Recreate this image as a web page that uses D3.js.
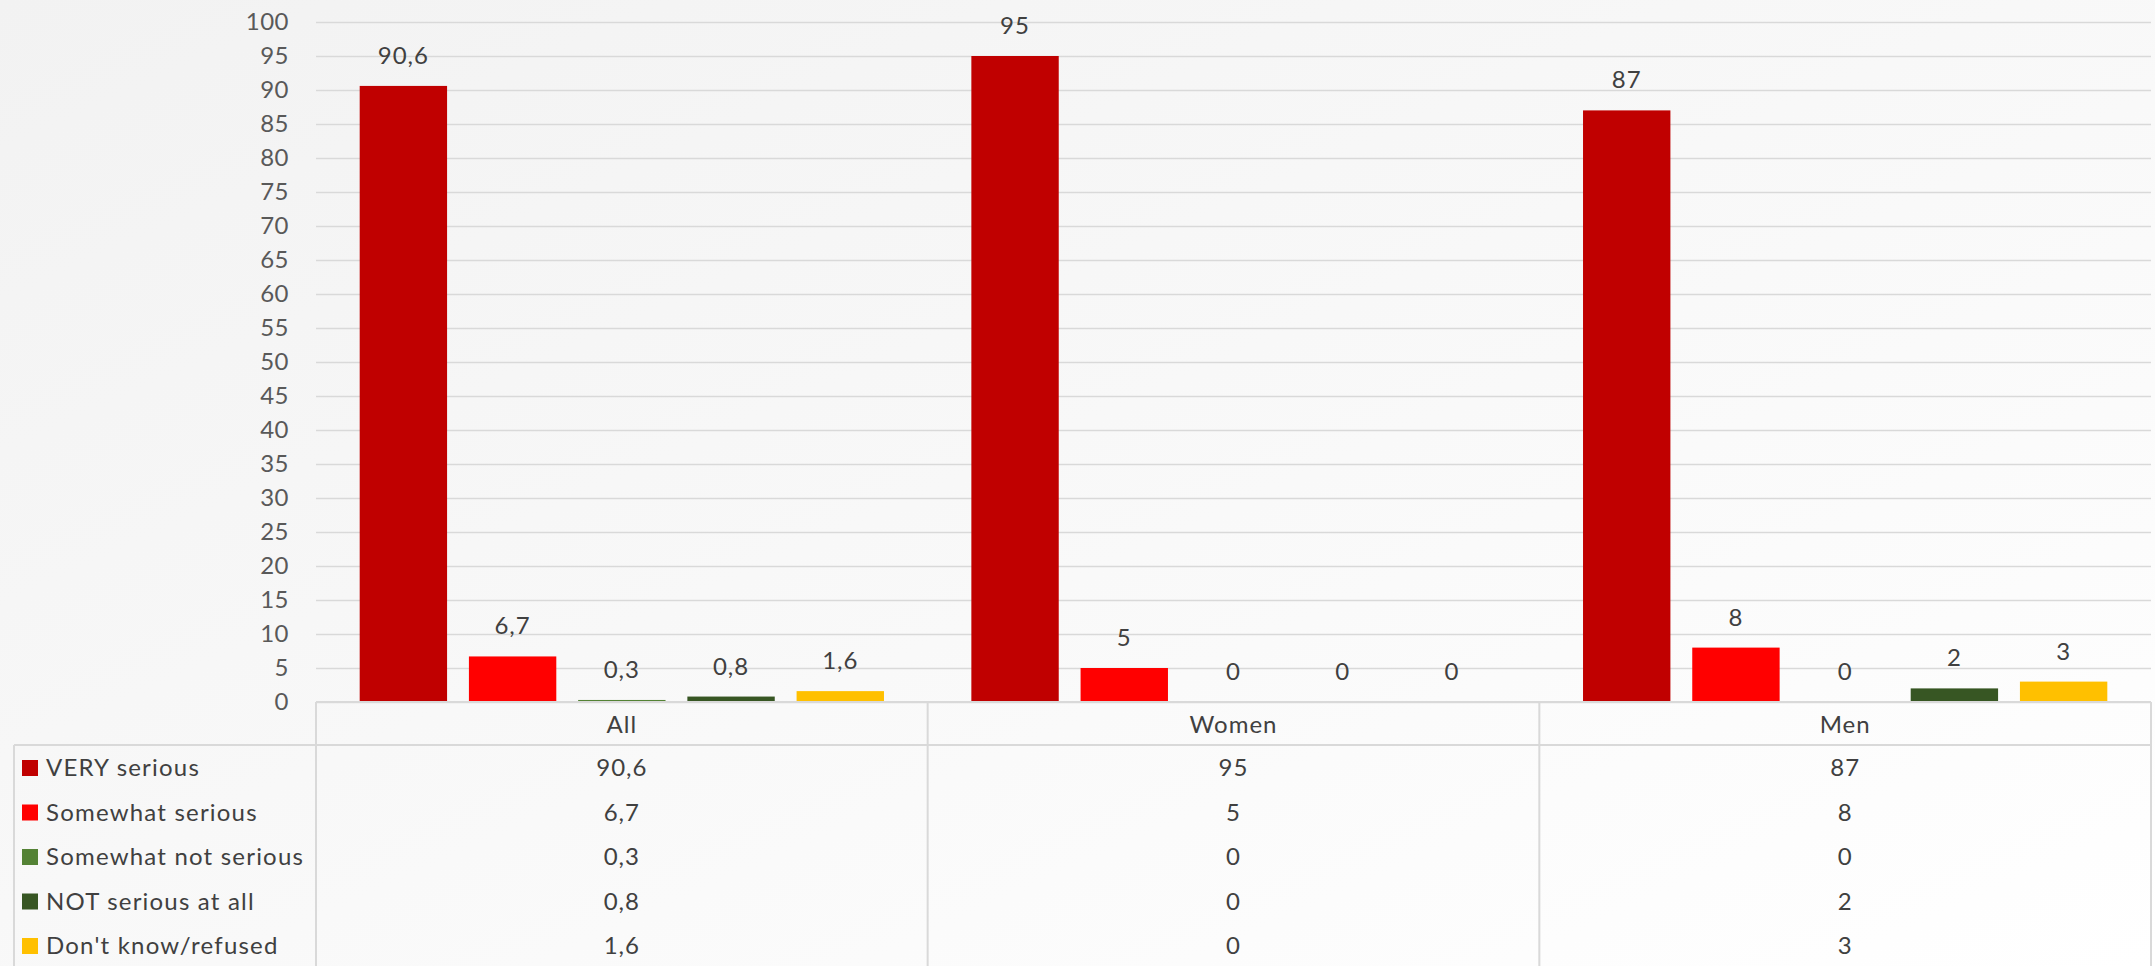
<!DOCTYPE html>
<html>
<head>
<meta charset="utf-8">
<script src="https://cdn.jsdelivr.net/npm/d3@7"></script>
<style>
  html, body { margin: 0; padding: 0; }
  body { width: 2155px; height: 966px; overflow: hidden; }
  svg text { font-family: Lato, "Open Sans", sans-serif; }
</style>
</head>
<body>
<svg id="chart" width="2155" height="966"></svg>
<script>
// ---- data ----
const categories = ["All", "Women", "Men"];
const seriesNames = ["VERY serious", "Somewhat serious", "Somewhat not serious", "NOT serious at all", "Don't know/refused"];
const seriesColors = ["#C00000", "#FF0000", "#548235", "#375623", "#FFC000"];
const verySerious = [90.6, 95, 87];
const somewhatSerious = [6.7, 5, 8];
const somewhatNotSerious = [0.3, 0, 0];
const notSeriousAtAll = [0.8, 0, 2];
const dontKnow = [1.6, 0, 3];
const yTicks = [0, 5, 10, 15, 20, 25, 30, 35, 40, 45, 50, 55, 60, 65, 70, 75, 80, 85, 90, 95, 100];

const seriesValues = [verySerious, somewhatSerious, somewhatNotSerious, notSeriousAtAll, dontKnow];
const fmt = v => String(v).replace(".", ",");

// ---- layout ----
const W = 2155, H = 966;
const plotLeft = 316, plotRight = 2151, plotTop = 22, plotBottom = 702;
const headerBottom = 745;
const tableLeft = 14;
const rowY0 = 768, rowStep = 44.5;
const FS = "24px";

const svg = d3.select("#chart");

// background gradient
const defs = svg.append("defs");
const grad = defs.append("linearGradient").attr("id", "bg")
  .attr("x1", "0%").attr("y1", "0%").attr("x2", "100%").attr("y2", "100%");
grad.append("stop").attr("offset", "0%").attr("stop-color", "#f2f2f2");
grad.append("stop").attr("offset", "55%").attr("stop-color", "#f9f9f9");
grad.append("stop").attr("offset", "100%").attr("stop-color", "#ffffff");
svg.append("rect").attr("width", W).attr("height", H).attr("fill", "url(#bg)");

// scales
const x0 = d3.scaleBand().domain(categories).range([plotLeft, plotRight]).paddingInner(0).paddingOuter(0);
const gw = x0.bandwidth();
const b = gw / 7;
const x1 = d3.scaleBand().domain(d3.range(seriesNames.length)).range([b / 2, gw - b / 2]).paddingInner(0.2).paddingOuter(0);
const y = d3.scaleLinear().domain([0, 100]).range([plotBottom, plotTop]);

// gridlines + y axis
const yAxis = d3.axisLeft(y).tickValues(yTicks).tickSize(-(plotRight - plotLeft)).tickPadding(27).tickFormat(d => d);
const gy = svg.append("g").attr("transform", `translate(${plotLeft},0)`).call(yAxis);
gy.select(".domain").remove();
gy.selectAll(".tick line").attr("stroke", "#d9d9d9").attr("stroke-width", 1.5);
gy.selectAll(".tick text").attr("fill", "#595959").style("font-size", FS)
  .style("font-family", "Lato, sans-serif").style("letter-spacing", "0.5px");

// bars
const groups = svg.append("g").selectAll("g").data(categories).join("g")
  .attr("transform", d => `translate(${x0(d)},0)`);

groups.each(function(cat, ci) {
  const g = d3.select(this);
  seriesNames.forEach((s, si) => {
    const v = seriesValues[si][ci];
    g.append("rect")
      .attr("x", x1(si))
      .attr("width", x1.bandwidth())
      .attr("y", y(v))
      .attr("height", y(0) - y(v))
      .attr("fill", seriesColors[si]);
    g.append("text")
      .attr("x", x1(si) + x1.bandwidth() / 2)
      .attr("y", y(v) - 22)
      .attr("text-anchor", "middle")
      .attr("fill", "#404040")
      .style("font-size", FS)
      .style("letter-spacing", "1px")
      .text(fmt(v));
  });
});

// table lines
const lineColor = "#d9d9d9";
const tl = svg.append("g").attr("stroke", lineColor).attr("stroke-width", 2).attr("fill", "none");
tl.append("line").attr("x1", plotLeft).attr("x2", plotRight).attr("y1", plotBottom).attr("y2", plotBottom);
tl.append("line").attr("x1", tableLeft).attr("x2", plotRight).attr("y1", headerBottom).attr("y2", headerBottom);
tl.append("line").attr("x1", tableLeft).attr("x2", tableLeft).attr("y1", headerBottom).attr("y2", H);
const boundaries = categories.map(c => x0(c)).concat([plotRight]);
tl.selectAll("line.v").data(boundaries).join("line").attr("class", "v")
  .attr("x1", d => d).attr("x2", d => d).attr("y1", plotBottom).attr("y2", H);

// header labels
svg.append("g").selectAll("text").data(categories).join("text")
  .attr("x", d => x0(d) + gw / 2)
  .attr("y", 725)
  .attr("dy", "0.35em")
  .attr("text-anchor", "middle")
  .attr("fill", "#404040")
  .style("font-size", FS)
  .style("letter-spacing", "1px")
  .text(d => d);

// legend rows
const rows = svg.append("g").selectAll("g").data(seriesNames).join("g")
  .attr("transform", (d, i) => `translate(0,${rowY0 + i * rowStep})`);
rows.append("rect").attr("x", 22).attr("y", -8).attr("width", 16).attr("height", 16)
  .attr("fill", (d, i) => seriesColors[i]);
rows.append("text").attr("x", 46).attr("dy", "0.35em").attr("fill", "#404040")
  .style("font-size", FS).style("letter-spacing", "1.2px").text(d => d);
rows.each(function(s, si) {
  d3.select(this).selectAll("text.val").data(categories).join("text").attr("class", "val")
    .attr("x", d => x0(d) + gw / 2)
    .attr("dy", "0.35em")
    .attr("text-anchor", "middle")
    .attr("fill", "#404040")
    .style("font-size", FS)
    .style("letter-spacing", "1px")
    .text((d, ci) => fmt(seriesValues[si][ci]));
});
</script>
</body>
</html>
